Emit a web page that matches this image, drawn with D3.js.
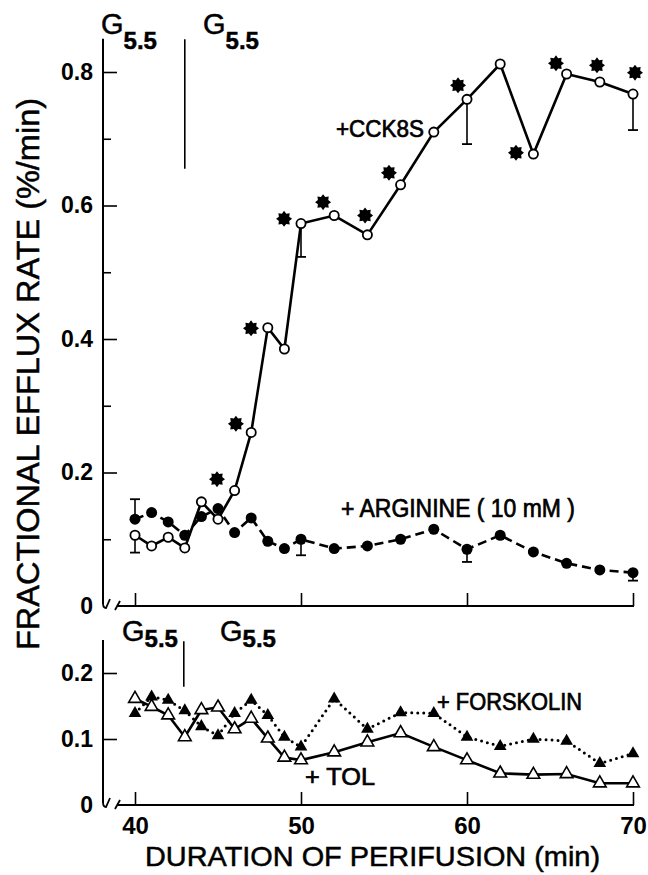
<!DOCTYPE html>
<html>
<head>
<meta charset="utf-8">
<script src="https://cdn.jsdelivr.net/npm/d3@7"></script>
<style>
  body { margin: 0; background: #fff; }
  svg { display: block; }
</style>
</head>
<body>
<div id="chart"></div>
<script>
'use strict';

// sampling times (min)
var times = [40, 41, 42, 43, 44, 45, 46, 47, 48, 49, 50, 52, 54, 56, 58, 60, 62, 64, 66, 68, 70];

// upper panel
var cck8s = [0.106, 0.090, 0.103, 0.087, 0.156, 0.130, 0.173, 0.260, 0.417, 0.385, 0.573,
             0.585, 0.556, 0.631, 0.710, 0.759, 0.812, 0.677, 0.797, 0.785, 0.767];
var arginine = [0.130, 0.140, 0.126, 0.106, 0.134, 0.146, 0.110, 0.132, 0.097, 0.086, 0.100,
                0.086, 0.090, 0.100, 0.115, 0.085, 0.106, 0.081, 0.064, 0.054, 0.050];

// lower panel
var tol = [0.161, 0.149, 0.136, 0.103, 0.144, 0.148, 0.115, 0.131, 0.101, 0.072, 0.068,
           0.080, 0.095, 0.109, 0.088, 0.068, 0.048, 0.046, 0.047, 0.033, 0.033];
var forskolin = [0.139, 0.164, 0.159, 0.143, 0.119, 0.105, 0.139, 0.159, 0.136, 0.103, 0.088,
                 0.161, 0.115, 0.140, 0.139, 0.103, 0.089, 0.100, 0.097, 0.063, 0.078];

// SEM bars: [time, mean, end of bar]
var cckErr = [[40, 0.106, 0.080], [50, 0.573, 0.523], [60, 0.759, 0.692], [70, 0.767, 0.713]];
var argErr = [[40, 0.130, 0.160], [50, 0.100, 0.076], [60, 0.085, 0.066], [70, 0.050, 0.038]];

// significance asterisks [time, value]
var stars = [[44.94, 0.190], [46.08, 0.273], [46.99, 0.416], [48.98, 0.580], [51.33, 0.605],
             [53.86, 0.585], [55.30, 0.649], [59.46, 0.780], [62.95, 0.679], [65.36, 0.813],
             [67.83, 0.810], [70.12, 0.799]];

var glucoseSwitch = 43;
var topTicks = [0, 0.2, 0.4, 0.6, 0.8];
var topMinor = [0.1, 0.3, 0.5, 0.7];
var botTicks = [0, 0.1, 0.2];
var xTicks = [40, 50, 60, 70];

var W = 648, H = 875;
var axisX = 103;
var font = "'Liberation Sans', Arial, sans-serif";

var svg = d3.select('#chart').append('svg')
    .attr('width', W)
    .attr('height', H)
    .attr('viewBox', '0 0 ' + W + ' ' + H);

var x = d3.scaleLinear().domain([40, 70]).range([135, 633]);
var yTop = d3.scaleLinear().domain([0, 0.8]).range([606, 72]);
var yBot = d3.scaleLinear().domain([0, 0.2]).range([805, 673]);

var fmt = function (d) { return d === 0 ? '0' : d3.format('.1f')(d); };

function styleAxis(g, size) {
    g.select('.domain').remove();
    g.selectAll('line').attr('stroke', '#000').attr('stroke-width', 1.6);
    g.selectAll('text')
        .attr('fill', '#000')
        .style('font-family', font)
        .style('font-weight', 'bold')
        .style('font-size', size + 'px');
}

// ---------- axes ----------
function yAxis(scale, major, minor, top) {
    var g = svg.append('g').attr('transform', 'translate(' + axisX + ',0)');
    g.call(d3.axisLeft(scale).tickValues(major).tickSize(-14).tickPadding(10).tickFormat(fmt));
    g.selectAll('.tick').filter(function (d) { return d === 0; }).select('line').remove();
    styleAxis(g, 23);
    if (minor) {
        var m = svg.append('g').attr('transform', 'translate(' + axisX + ',0)');
        m.call(d3.axisLeft(scale).tickValues(minor).tickSize(-8).tickFormat(''));
        styleAxis(m, 10);
    }
    var y0 = scale(0);
    svg.append('line')
        .attr('x1', axisX).attr('x2', axisX)
        .attr('y1', scale(top)).attr('y2', y0 - 2)
        .attr('stroke', '#000').attr('stroke-width', 2);
    // break marks
    svg.append('path')
        .attr('d', 'M' + axisX + ',' + (y0 - 3) + ' q0,5 3,5 l4,-9')
        .attr('fill', 'none').attr('stroke', '#000').attr('stroke-width', 1.8);
    svg.append('path')
        .attr('d', 'M' + (axisX + 12) + ',' + (y0 + 4) + ' l5,-9')
        .attr('fill', 'none').attr('stroke', '#000').attr('stroke-width', 1.8);
}

function xAxis(y0, labels) {
    var g = svg.append('g').attr('transform', 'translate(0,' + y0 + ')');
    g.call(d3.axisBottom(x).tickValues(xTicks).tickSize(-13).tickPadding(12)
        .tickFormat(labels ? d3.format('d') : ''));
    styleAxis(g, 24);
    svg.append('line')
        .attr('x1', axisX + 15).attr('x2', x(70) + 1)
        .attr('y1', y0).attr('y2', y0)
        .attr('stroke', '#000').attr('stroke-width', 2);
}

yAxis(yTop, topTicks, topMinor, 0.85);
yAxis(yBot, botTicks, null, 0.25);
xAxis(yTop(0), false);
xAxis(yBot(0), true);

// ---------- glucose markers ----------
function gLabel(px, py, subDy) {
    var t = svg.append('text')
        .attr('x', px).attr('y', py)
        .style('font-family', font)
        .style('font-size', '29px')
        .attr('stroke', '#000').attr('stroke-width', 0.5);
    t.append('tspan').text('G');
    t.append('tspan').attr('dy', subDy).style('font-size', '24px').style('font-weight', 'bold').text('5.5');
}
gLabel(101, 34, 15);
gLabel(203, 34, 15);
gLabel(122, 641, 6);
gLabel(220, 641, 6);

svg.append('line')
    .attr('x1', x(glucoseSwitch)).attr('x2', x(glucoseSwitch))
    .attr('y1', yTop(0.8 + 0.049)).attr('y2', yTop(0.655))
    .attr('stroke', '#000').attr('stroke-width', 1.6);
svg.append('line')
    .attr('x1', x(glucoseSwitch) - 1).attr('x2', x(glucoseSwitch) - 1)
    .attr('y1', yBot(0.248)).attr('y2', yBot(0.179))
    .attr('stroke', '#000').attr('stroke-width', 1.6);

// ---------- series ----------
function series(vals, scale) {
    return times.map(function (t, i) { return [x(t), scale(vals[i])]; });
}
var line = d3.line();

function errBars(list, scale) {
    list.forEach(function (e) {
        var px = x(e[0]);
        svg.append('line')
            .attr('x1', px).attr('x2', px)
            .attr('y1', scale(e[1])).attr('y2', scale(e[2]))
            .attr('stroke', '#000').attr('stroke-width', 1.6);
        svg.append('line')
            .attr('x1', px - 5).attr('x2', px + 5)
            .attr('y1', scale(e[2])).attr('y2', scale(e[2]))
            .attr('stroke', '#000').attr('stroke-width', 1.8);
    });
}
errBars(argErr, yTop);
errBars(cckErr, yTop);

var argPts = series(arginine, yTop);
var cckPts = series(cck8s, yTop);
var tolPts = series(tol, yBot);
var forPts = series(forskolin, yBot);

svg.append('path').attr('d', line(argPts))
    .attr('fill', 'none').attr('stroke', '#000').attr('stroke-width', 2.6)
    .attr('stroke-dasharray', '9,5');
svg.append('path').attr('d', line(cckPts))
    .attr('fill', 'none').attr('stroke', '#000').attr('stroke-width', 2.6);
svg.append('path').attr('d', line(forPts))
    .attr('fill', 'none').attr('stroke', '#000').attr('stroke-width', 3)
    .attr('stroke-linecap', 'round').attr('stroke-dasharray', '0,6');
svg.append('path').attr('d', line(tolPts))
    .attr('fill', 'none').attr('stroke', '#000').attr('stroke-width', 2.6);

svg.selectAll('.arg').data(argPts).enter().append('circle')
    .attr('cx', function (d) { return d[0]; })
    .attr('cy', function (d) { return d[1]; })
    .attr('r', 5.5).attr('fill', '#000');
svg.selectAll('.cck').data(cckPts).enter().append('circle')
    .attr('cx', function (d) { return d[0]; })
    .attr('cy', function (d) { return d[1]; })
    .attr('r', 4.6).attr('fill', '#fff').attr('stroke', '#000').attr('stroke-width', 1.8);

var tri = d3.symbol().type(d3.symbolTriangle).size(70);
svg.selectAll('.for').data(forPts).enter().append('path')
    .attr('transform', function (d) { return 'translate(' + d[0] + ',' + d[1] + ')'; })
    .attr('d', tri).attr('fill', '#000');
svg.selectAll('.tol').data(tolPts).enter().append('path')
    .attr('transform', function (d) { return 'translate(' + d[0] + ',' + d[1] + ')'; })
    .attr('d', tri).attr('fill', '#fff').attr('stroke', '#000').attr('stroke-width', 1.6);

// asterisks
var starShape = (function () {
    var pts = [];
    for (var k = 0; k < 16; k++) {
        var a = k * Math.PI / 8;
        var r = k % 2 ? 5.6 : 8;
        pts.push([r * Math.sin(a), -r * Math.cos(a)]);
    }
    return d3.line().curve(d3.curveLinearClosed)(pts);
})();
svg.selectAll('.star').data(stars).enter().append('path')
    .attr('transform', function (d) { return 'translate(' + x(d[0]) + ',' + yTop(d[1]) + ')'; })
    .attr('d', starShape).attr('fill', '#000');

// ---------- labels ----------
function label(txt, px, py, len, size) {
    svg.append('text')
        .attr('x', px).attr('y', py)
        .attr('textLength', len).attr('lengthAdjust', 'spacingAndGlyphs')
        .attr('stroke', '#000').attr('stroke-width', 0.7)
        .style('font-family', font)
        .style('font-size', (size || 24) + 'px')
        .text(txt);
}
label('+CCK8S', 336, 137, 88);
label('+ ARGININE ( 10 mM )', 341, 517, 234, 25);
label('+ FORSKOLIN', 437, 710, 145);
label('+ TOL', 305, 785, 70);

svg.append('text')
    .attr('x', 145).attr('y', 866)
    .attr('textLength', 455).attr('lengthAdjust', 'spacingAndGlyphs')
    .attr('stroke', '#000').attr('stroke-width', 0.5)
    .style('font-family', font).style('font-size', '28px')
    .text('DURATION OF PERIFUSION (min)');

svg.append('text')
    .attr('transform', 'translate(39,650) rotate(-90)')
    .attr('x', 0).attr('y', 0)
    .attr('textLength', 552).attr('lengthAdjust', 'spacingAndGlyphs')
    .attr('stroke', '#000').attr('stroke-width', 0.5)
    .style('font-family', font).style('font-size', '31px')
    .text('FRACTIONAL EFFLUX RATE  (%/min)');
</script>
</body>
</html>
